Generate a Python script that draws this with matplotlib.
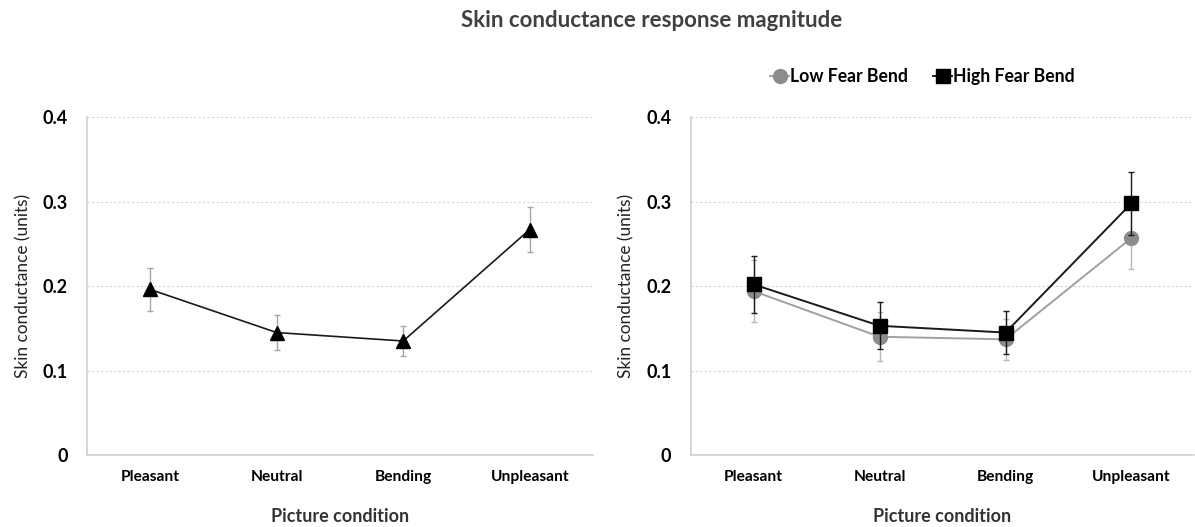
import matplotlib
matplotlib.use("Agg")
import matplotlib.pyplot as plt
import numpy as np

plt.rcParams['font.family'] = ['Lato', 'DejaVu Sans']

conditions = ['Pleasant', 'Neutral', 'Bending', 'Unpleasant']

# left panel: all participants
all_mean = [0.196, 0.145, 0.135, 0.267]
all_err = [0.026, 0.021, 0.018, 0.027]

# right panel: split by fear of bending
low_mean = [0.194, 0.140, 0.137, 0.257]
low_err = [0.037, 0.029, 0.024, 0.037]
high_mean = [0.202, 0.153, 0.145, 0.298]
high_err = [0.034, 0.028, 0.025, 0.037]

yticks = [0, 0.1, 0.2, 0.3, 0.4]
ytick_labels = ['0', '0.1', '0.2', '0.3', '0.4']

fig = plt.figure(figsize=(11.95, 5.27), dpi=100)
ax1 = fig.add_axes([0.0728, 0.1366, 0.4234, 0.641])
ax2 = fig.add_axes([0.578, 0.1366, 0.4215, 0.641])

x = np.arange(len(conditions)) + 0.5


def style_axis(ax):
    ax.set_xlim(0, 4)
    ax.set_ylim(0, 0.4)
    ax.set_yticks(yticks)
    ax.set_yticklabels(ytick_labels, fontsize=13, fontweight='bold')
    ax.set_xticks(x)
    ax.set_xticklabels(conditions, fontsize=11.2, fontweight='bold')
    ax.tick_params(axis='both', length=0)
    ax.tick_params(axis='y', pad=14)
    ax.tick_params(axis='x', pad=11)
    for s in ['top', 'right']:
        ax.spines[s].set_visible(False)
    for s in ['left', 'bottom']:
        ax.spines[s].set_color('#d0d0d0')
        ax.spines[s].set_linewidth(1.2)
    for v in yticks[1:]:
        ax.axhline(v, color='#d4d4d4', lw=0.8, ls=(0, (2, 2)), zorder=0)
    ax.set_ylabel('Skin conductance (units)', fontsize=12.4, color='#222222', labelpad=8)
    ax.set_xlabel('Picture condition', fontsize=13, fontweight='bold', color='#333333', labelpad=17)


style_axis(ax1)
ax1.errorbar(x, all_mean, yerr=all_err, fmt='none', ecolor='#a6a6a6', elinewidth=1,
             capsize=2.5, capthick=1, zorder=2)
ax1.plot(x, all_mean, color='#1a1a1a', lw=1.2, marker='^', ms=10, mfc='black', mec='black', zorder=3)

style_axis(ax2)
ax2.errorbar(x, low_mean, yerr=low_err, fmt='none', ecolor='#b8b8b8', elinewidth=1,
             capsize=2.5, capthick=1, zorder=2)
ax2.plot(x, low_mean, color='#a0a0a0', lw=1.4, marker='o', ms=10, mfc='#8c8c8c', mec='#8c8c8c',
         label='Low Fear Bend', zorder=3)
ax2.errorbar(x, high_mean, yerr=high_err, fmt='none', ecolor='#1a1a1a', elinewidth=1,
             capsize=2.5, capthick=1, zorder=4)
ax2.plot(x, high_mean, color='#1a1a1a', lw=1.4, marker='s', ms=10, mfc='black', mec='black',
         label='High Fear Bend', zorder=5)

handles, labels = ax2.get_legend_handles_labels()
fig.legend(handles, labels, loc='center', bbox_to_anchor=(0.772, 0.854), ncol=2, frameon=False,
           prop={'size': 12.7, 'weight': 'bold'}, handlelength=1.1, handletextpad=0.05,
           columnspacing=1.4, borderpad=0)

fig.text(0.5456, 0.962, 'Skin conductance response magnitude', ha='center', va='center',
         fontsize=16, fontweight='bold', color='#404040')

fig.savefig('out.png', dpi=100)
